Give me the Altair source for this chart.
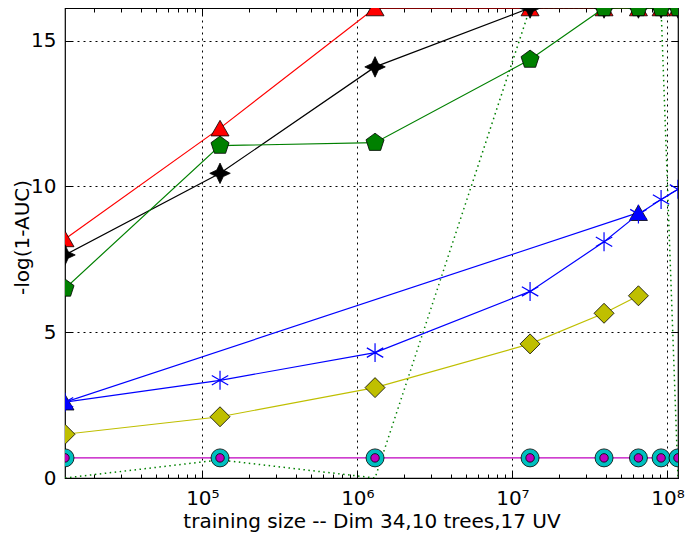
import altair as alt
import pandas as pd

# ---------------- data ----------------
XS = [13000, 130000, 1300000, 13000000, 39000000, 65000000, 91000000, 117000000]
RED_TRI = [8.2, 12.0, 16.12, 16.12, 16.12, 16.12, 16.12, 16.12]
BLACK_STAR = [7.65, 10.45, 14.1, 16.12, 16.12, 16.12, 16.12, 16.12]
GREEN_PENT = [6.5, 11.4, 11.5, 14.35, 16.12, 16.12, 16.12, 16.12]
GREEN_DOT = [0.0, 0.62, 0.0, 16.12, 16.12, 16.12, 16.12, 0.0]
BLUE_TRI_X = [13000, 65000000]
BLUE_TRI = [2.6, 9.1]
BLUE_AST = [2.6, 3.35, 4.3, 6.4, 8.1, 9.05, 9.55, 9.9]
YELLOW_X = [13000, 130000, 1300000, 13000000, 39000000, 65000000]
YELLOW = [1.5, 2.1, 3.1, 4.6, 5.65, 6.25]
CHANCE = [0.69, 0.69, 0.69, 0.69, 0.69, 0.69, 0.69, 0.69]

X_DOMAIN = [13000, 117000000]
Y_DOMAIN = [0, 16.12]
X_MAJOR = [1e5, 1e6, 1e7, 1e8]
X_MAJOR_LABELS = ["10\u2075", "10\u2076", "10\u2077", "10\u2078"]
X_MINOR = [m * 10 ** e for e in range(4, 8) for m in range(2, 10)]
Y_TICKS = [0, 5, 10, 15]
X_TITLE = "training size -- Dim 34,10 trees,17 UV"
Y_TITLE = "-log(1-AUC)"

W, H = 613, 470
FONT = "DejaVu Sans"

PENTAGON = "M0,-1L0.951,-0.309L0.588,0.809L-0.588,0.809L-0.951,-0.309Z"
STAR4 = "M0,-1L0.32,-0.32L1,0L0.32,0.32L0,1L-0.32,0.32L-1,0L-0.32,-0.32Z"
ASTERISK = "M0,-1L0,1M-0.866,-0.5L0.866,0.5M-0.866,0.5L0.866,-0.5"

xscale = alt.Scale(type="log", domain=X_DOMAIN, nice=False)
yscale = alt.Scale(domain=Y_DOMAIN, nice=False, zero=False)

label_expr = " : ".join(
    f"datum.value < {v * 3:g} ? '{lab}'" for v, lab in zip(X_MAJOR[:-1], X_MAJOR_LABELS[:-1])
) + f" : '{X_MAJOR_LABELS[-1]}'"

xaxis_main = alt.Axis(
    orient="bottom", values=X_MAJOR, labelExpr=label_expr, ticks=False, tickSize=0,
    domain=False, grid=True, gridColor="black", gridDash=[2, 4], gridWidth=1, gridOpacity=1,
    labelFont=FONT, labelFontSize=20, labelColor="black", labelPadding=26,
    labelBaseline="alphabetic", labelFlush=False, labelAlign="center",
    title=X_TITLE, titleFont=FONT, titleFontSize=20, titleFontWeight="normal",
    titleColor="black", titleX=W / 2, titleY=49, titleBaseline="alphabetic", titleAlign="center",
)
yaxis_main = alt.Axis(
    orient="left", values=Y_TICKS, format="d", ticks=False, tickSize=0,
    domain=False, grid=True, gridColor="black", gridDash=[2, 4], gridWidth=1, gridOpacity=1,
    labelFont=FONT, labelFontSize=20, labelColor="black", labelPadding=9, labelFlush=False,
    title=Y_TITLE, titleFont=FONT, titleFontSize=20, titleFontWeight="normal",
    titleColor="black", titleX=-37, titleY=229, titleAngle=270,
    titleBaseline="alphabetic", titleAlign="center",
)

X = alt.X("x:Q", scale=xscale, axis=xaxis_main)
Y = alt.Y("y:Q", scale=yscale, axis=yaxis_main)


def frame(xs, ys):
    return pd.DataFrame({"x": xs, "y": ys})


def line(df, color, width=1.2, dash=None):
    kw = dict(color=color, strokeWidth=width, clip=True)
    if dash is not None:
        kw["strokeDash"] = dash
    return alt.Chart(df).mark_line(**kw).encode(x=X, y=Y)


def points(df, shape, size, fill, stroke="black", sw=0.8, filled=True):
    if filled:
        m = alt.Chart(df).mark_point(shape=shape, size=size, filled=True, fill=fill,
                                     stroke=stroke, strokeWidth=sw, opacity=1, clip=True)
    else:
        m = alt.Chart(df).mark_point(shape=shape, size=size, filled=False, stroke=stroke,
                                     strokeWidth=sw, opacity=1, clip=True)
    return m.encode(x=X, y=Y)


d_red = frame(XS, RED_TRI)
d_black = frame(XS, BLACK_STAR)
d_green = frame(XS, GREEN_PENT)
d_gdot = frame(XS, GREEN_DOT)
d_btri = frame(BLUE_TRI_X, BLUE_TRI)
d_bast = frame(XS, BLUE_AST)
d_yel = frame(YELLOW_X, YELLOW)
d_chance = frame(XS, CHANCE)

data_layers = alt.layer(
    line(d_gdot, "#008000", 1.5, [1.5, 3.5]),
    line(d_red, "#ff0000"), points(d_red, "triangle-up", 324, "#ff0000"),
    line(d_black, "#000000"), points(d_black, STAR4, 420, "#000000"),
    line(d_green, "#008000"), points(d_green, PENTAGON, 361, "#008000"),
    line(d_btri, "#0000ff"), points(d_btri, "triangle-up", 324, "#0000ff"),
    line(d_bast, "#0000ff"), points(d_bast, ASTERISK, 360, None, stroke="#0000ff", sw=1.2, filled=False),
    line(d_yel, "#bfbf00"), points(d_yel, "diamond", 400, "#bfbf00"),
    line(d_chance, "#bf00bf"),
    points(d_chance, "circle", 324, "#00bfbf"),
    points(d_chance, "circle", 72, "#bf00bf"),
)


def tick_axis(orient, values, size, offset):
    return alt.Axis(orient=orient, values=values, offset=offset, labels=False, grid=False,
                    domain=False, ticks=True, tickSize=size, tickColor="black", tickWidth=1,
                    title=None)


def tick_layer(xaxis, yaxis):
    enc = dict(x=alt.X("x:Q", scale=xscale, axis=xaxis))
    if yaxis is not None:
        enc["y"] = alt.Y("y:Q", scale=yscale, axis=yaxis)
    else:
        enc["y"] = alt.Y("y:Q", scale=yscale, axis=None)
    return alt.Chart(d_chance).mark_point(opacity=0).encode(**enc)


t1 = tick_layer(tick_axis("top", X_MAJOR, 7, -H), tick_axis("right", Y_TICKS, 7, -W))
t2 = tick_layer(tick_axis("bottom", X_MAJOR, 7, -H), tick_axis("left", Y_TICKS, 7, -W))
t3 = tick_layer(tick_axis("top", X_MINOR, 4, -H), None)
t4 = tick_layer(tick_axis("bottom", X_MINOR, 4, -H), None)

chart = alt.layer(data_layers, t1, t2, t3, t4).resolve_scale(
    x="independent", y="independent"
).properties(
    width=W, height=H,
    autosize=alt.AutoSizeParams(type="none"),
    padding={"left": 57, "top": 0, "right": 7, "bottom": 54},
    background="white",
).configure_view(stroke="black", strokeWidth=1.2)

chart.save("out.html", embed_options={"renderer": "svg", "actions": False})
